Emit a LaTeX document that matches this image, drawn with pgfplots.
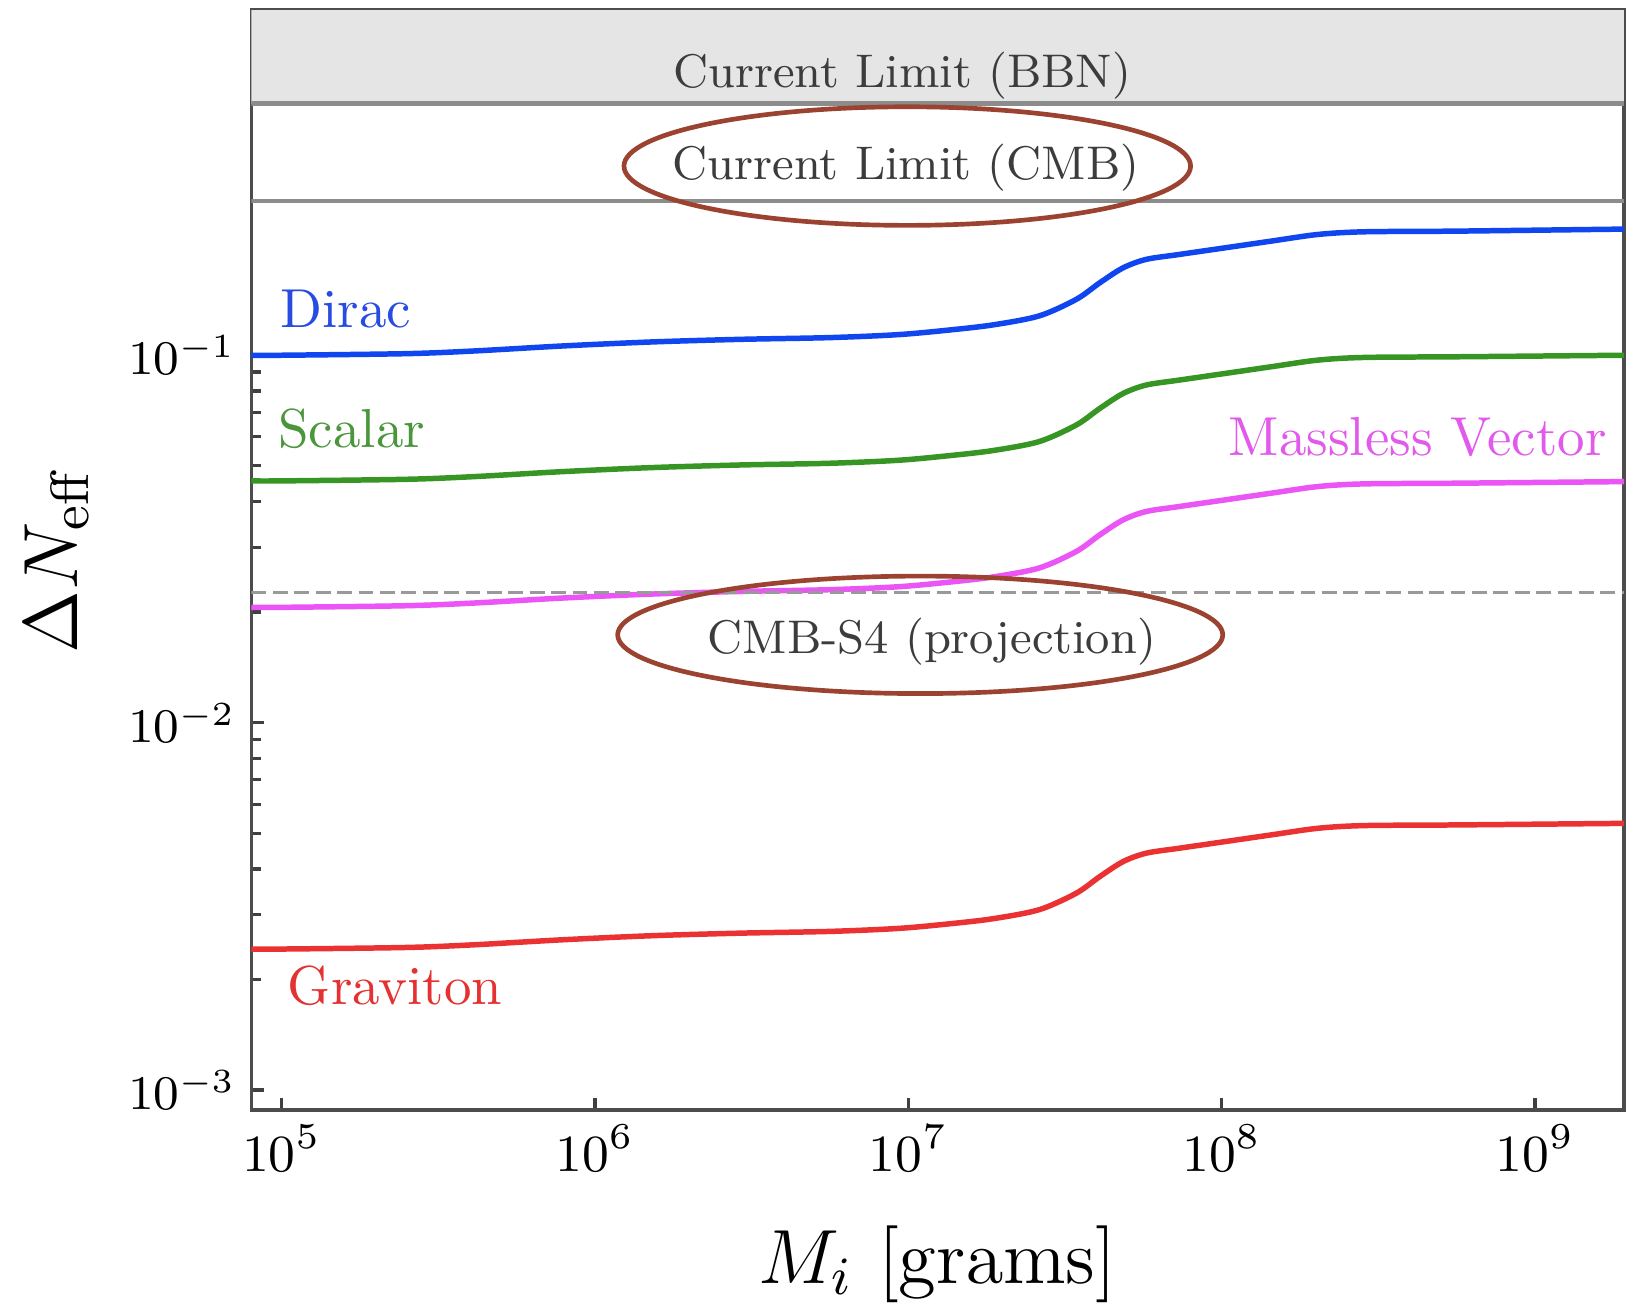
\RequirePackage{fix-cm}
\documentclass[border=0pt]{standalone}
\usepackage{pgfplots}
\pgfplotsset{compat=1.18}
\definecolor{cblue}{RGB}{15,70,240}
\definecolor{cgreen}{RGB}{55,150,35}
\definecolor{cmag}{RGB}{235,85,245}
\definecolor{cred}{RGB}{235,50,50}
\definecolor{tblue}{RGB}{40,75,225}
\definecolor{tgreen}{RGB}{75,150,60}
\definecolor{tmag}{RGB}{225,90,235}
\definecolor{tred}{RGB}{228,50,50}
\definecolor{annot}{RGB}{60,60,60}
\definecolor{cell}{RGB}{155,67,48}
\begin{document}
\begin{tikzpicture}
\begin{axis}[
  scale only axis, width=250pt, height=200.4pt,
  xmode=log, ymode=log,
  xmin=8.02e4, xmax=1.924e9, ymin=8.82e-4, ymax=0.871,
  xtick={1e5,1e6,1e7,1e8,1e9},
  ytick={1e-3,1e-2,1e-1},
  xminorticks=false,
  tick pos=left, tick align=inside,
  major tick length=2.2pt, minor tick length=1.8pt,
  axis line style={black!70, line width=0.7pt},
  every tick/.style={black!75, line width=0.6pt},
  xticklabel style={anchor=base, yshift=-11.1pt, font=\fontsize{9.5}{11}\selectfont},
  yticklabel style={xshift=0.6pt, font=\fontsize{8.8}{10}\selectfont},
  xlabel={$M_i\ [\mathrm{grams}]$},
  ylabel={$\Delta N_{\mathrm{eff}}$},
  xlabel style={at={(axis description cs:0.5,0)}, anchor=base, yshift=-31.5pt, font=\fontsize{14}{17}\selectfont},
  ylabel style={at={(axis description cs:-0.142,0.5)}, anchor=center, inner sep=0pt, font=\fontsize{14}{17}\selectfont},
]
\coordinate (sw) at (rel axis cs:0,0);
\coordinate (ne) at (rel axis cs:1,1);

% BBN excluded band
\addplot[draw=none, fill=gray!20] coordinates {(8.02e4,0.484) (1.924e9,0.484) (1.924e9,0.871) (8.02e4,0.871)} -- cycle;
\addplot[black!45, line width=0.8pt] coordinates {(8.02e4,0.484) (1.924e9,0.484)};
\addplot[black!45, line width=0.8pt] coordinates {(8.02e4,0.2626) (1.924e9,0.2626)};

% Dirac
\addplot[cblue, line width=1.0pt, smooth] coordinates {
(8.02e4,0.1000) (1e5,0.1000) (2.5e5,0.1010) (4.1e5,0.1027) (7.9e5,0.1060)
(1.52e6,0.1087) (2.93e6,0.1105) (5.63e6,0.1117) (9.3e6,0.1138) (1.36e7,0.1172)
(1.87e7,0.1210) (2.62e7,0.1280) (3.44e7,0.1420) (4.09e7,0.1576) (4.85e7,0.1730)
(5.75e7,0.1824) (7.29e7,0.1880) (1.03e8,0.1962) (1.44e8,0.2045) (2.03e8,0.2132)
(2.86e8,0.2168) (5.65e8,0.2177) (1.924e9,0.2205)};
% Scalar
\addplot[cgreen, line width=1.0pt, smooth] coordinates {
(8.02e4,0.0455) (1e5,0.0455) (2.5e5,0.04596) (4.1e5,0.04673) (7.9e5,0.04823)
(1.52e6,0.04946) (2.93e6,0.05028) (5.63e6,0.05082) (9.3e6,0.05178) (1.36e7,0.05333)
(1.87e7,0.05506) (2.62e7,0.05824) (3.44e7,0.06461) (4.09e7,0.07171) (4.85e7,0.07872)
(5.75e7,0.08299) (7.29e7,0.08554) (1.03e8,0.08927) (1.44e8,0.09305) (2.03e8,0.09701)
(2.86e8,0.09864) (5.65e8,0.09905) (1.924e9,0.10000)};
% Massless vector
\addplot[cmag, line width=1.0pt, smooth] coordinates {
(8.02e4,0.0206) (1e5,0.0206) (2.5e5,0.02081) (4.1e5,0.02116) (7.9e5,0.02184)
(1.52e6,0.02239) (2.93e6,0.02276) (5.63e6,0.02301) (9.3e6,0.02344) (1.36e7,0.02414)
(1.87e7,0.02493) (2.62e7,0.02637) (3.44e7,0.02925) (4.09e7,0.03247) (4.85e7,0.03564)
(5.75e7,0.03757) (7.29e7,0.03873) (1.03e8,0.04042) (1.44e8,0.04213) (2.03e8,0.04392)
(2.86e8,0.04466) (5.65e8,0.04485) (1.924e9,0.04530)};
% Graviton
\addplot[cred, line width=1.0pt, smooth] coordinates {
(8.02e4,0.00242) (1e5,0.00242) (2.5e5,0.002444) (4.1e5,0.002485) (7.9e5,0.002565)
(1.52e6,0.002631) (2.93e6,0.002674) (5.63e6,0.002703) (9.3e6,0.002754) (1.36e7,0.002836)
(1.87e7,0.002928) (2.62e7,0.003098) (3.44e7,0.003436) (4.09e7,0.003814) (4.85e7,0.004187)
(5.75e7,0.004414) (7.29e7,0.004550) (1.03e8,0.004748) (1.44e8,0.004949) (2.03e8,0.005159)
(2.86e8,0.005247) (5.65e8,0.005268) (1.924e9,0.005320)};

% CMB-S4 projection
\addplot[black!40, line width=0.6pt, dash pattern=on 2.7pt off 1.2pt] coordinates {(8.02e4,0.02256) (1.924e9,0.02256)};

% annotations
\node[anchor=base, text=annot, font=\fontsize{8.6}{10}\selectfont] at (axis cs:9.57e6,0.535) {Current Limit (BBN)};
\node[anchor=base, text=annot, font=\fontsize{8.6}{10}\selectfont] at (axis cs:9.85e6,0.3007) {Current Limit (CMB)};
\node[anchor=base, text=annot, font=\fontsize{8.6}{10}\selectfont] at (axis cs:1.19e7,0.0154) {CMB-S4 (projection)};

\node[anchor=base west, inner sep=0pt, text=tblue, font=\fontsize{10}{12}\selectfont] at (axis cs:9.86e4,0.119) {Dirac};
\node[anchor=base west, inner sep=0pt, text=tgreen, font=\fontsize{10}{12}\selectfont] at (axis cs:9.7e4,0.0562) {Scalar};
\node[anchor=base west, inner sep=0pt, text=tmag, font=\fontsize{10}{12}\selectfont] at (axis cs:1.045e8,0.0535) {Massless Vector};
\node[anchor=base west, inner sep=0pt, text=tred, font=\fontsize{10}{12}\selectfont] at (axis cs:1.04e5,0.001706) {Graviton};

\draw[cell, line width=0.85pt] (axis cs:9.93e6,0.3273) ellipse [x radius=51.6pt, y radius=10.8pt];
\draw[cell, line width=0.85pt] (axis cs:1.092e7,0.01734) ellipse [x radius=55.1pt, y radius=10.7pt];
\end{axis}
\pgfresetboundingbox
\path[use as bounding box] ([xshift=-45.8pt,yshift=-35.1pt]sw) rectangle ([xshift=0.55pt,yshift=1.8pt]ne);
\end{tikzpicture}
\end{document}
